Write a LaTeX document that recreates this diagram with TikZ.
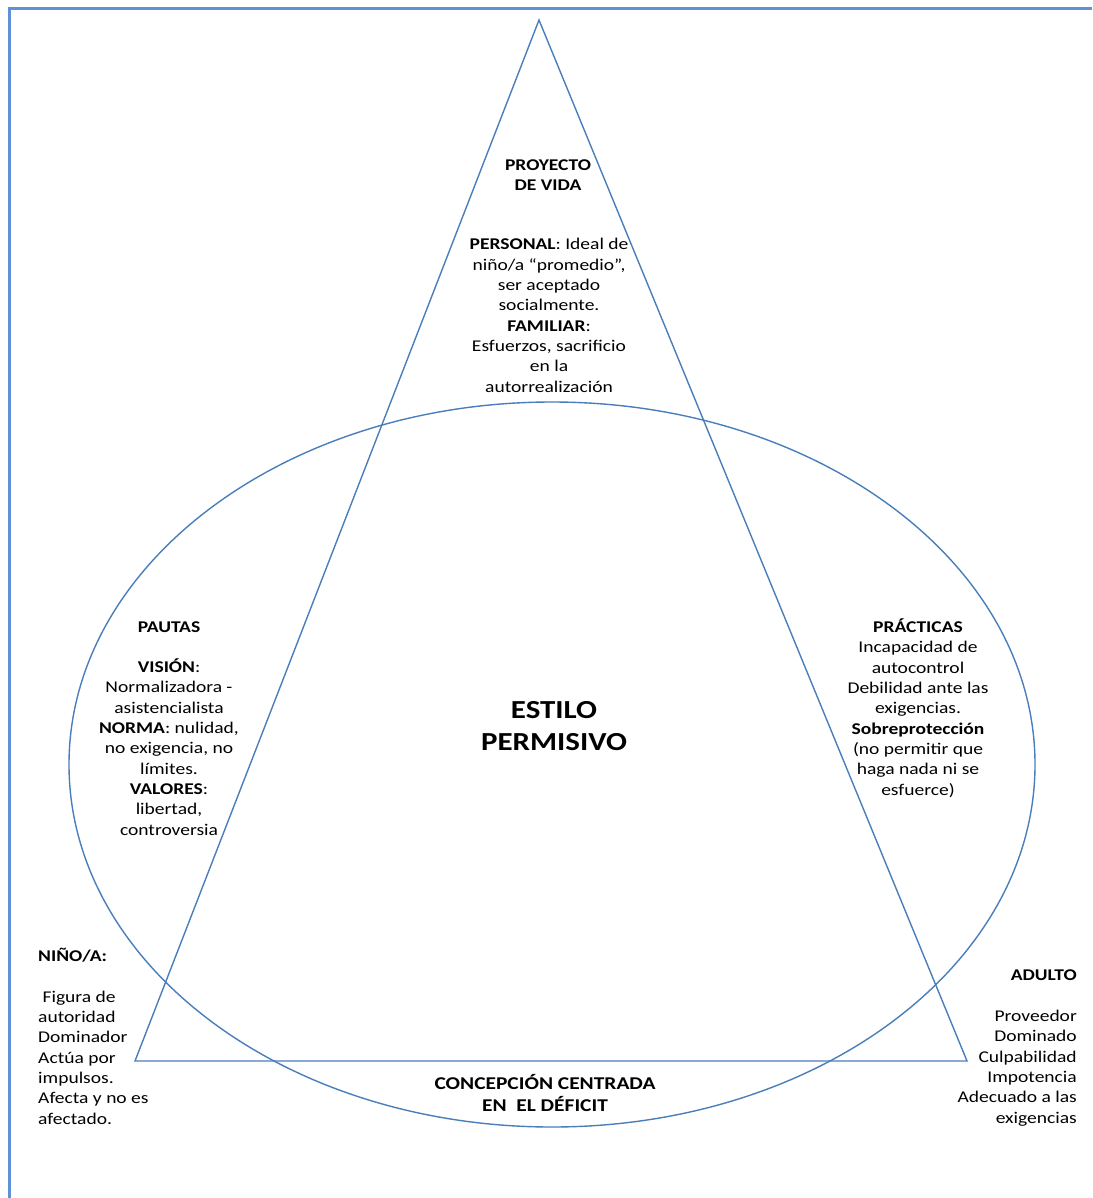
\documentclass[tikz,border=0pt]{standalone}
\usepackage{fontspec}
\setmainfont{Carlito}[FakeStretch=1.19]
\usepackage{tikz}
\usetikzlibrary{calc}

\definecolor{shapeblue}{HTML}{4A7EBB}
\definecolor{frameblue}{HTML}{5F91D8}

\begin{document}
\begin{tikzpicture}[x=1pt,y=1pt,
      txt/.style={inner sep=0pt,align=center,font=\fontsize{16.4}{20.3}\selectfont},
      ltxt/.style={txt,align=left},
      rtxt/.style={txt,align=right},
      big/.style={inner sep=0pt,align=center,font=\fontsize{26}{32}\selectfont\bfseries},
      outline/.style={draw=shapeblue,line width=1.4pt},
      frame/.style={draw=frameblue,line width=3pt}]
      \useasboundingbox (0,0) rectangle (1092,-1198);
      \draw[frame] (9,-1198) -- (9,-9) -- (1092,-9);
      \coordinate (apex) at (539,-20);
      \coordinate (lft) at (135,-1061);
      \coordinate (rgt) at (967,-1061);
      \coordinate (c) at (552,-764.5);
      \draw[outline] (c) ellipse [x radius=483, y radius=362.5];
      \draw[outline,line join=miter] (apex) -- (lft) -- (rgt) -- cycle;
      % texts (base = last line)
      \node[txt,anchor=base] (proyecto) at (548,-191) {\textbf{PROYECTO}\\\textbf{DE VIDA}};
      \node[txt,anchor=base] (personal) at (549,-392) {\textbf{PERSONAL}: Ideal de\\niño/a “promedio”,\\ser aceptado\\socialmente.\\\textbf{FAMILIAR}:\\Esfuerzos, sacrificio\\en la\\autorrealización};
      \node[txt,anchor=base] (pautas) at (169,-835) {\textbf{PAUTAS}\\[20.3pt]\textbf{VISIÓN}:\\Normalizadora -\\asistencialista\\\textbf{NORMA}: nulidad,\\no exigencia, no\\límites.\\\textbf{VALORES}:\\libertad,\\controversia};
      \node[txt,anchor=base] (practicas) at (918,-795) {\textbf{PRÁCTICAS}\\Incapacidad de\\autocontrol\\Debilidad ante las\\exigencias.\\\textbf{Sobreprotección}\\(no permitir que\\haga nada ni se\\esfuerce)};
      \node[big,anchor=base] (estilo) at (554,-750) {ESTILO\\PERMISIVO};
      \node[ltxt,anchor=base west] (nino) at (38,-1124) {\textbf{NIÑO/A:}\\[20.3pt]\ Figura de\\autoridad\\Dominador\\Actúa por\\impulsos.\\Afecta y no es\\afectado.};
      \node[rtxt,anchor=base east] (adulto) at (1077,-1123) {\textbf{ADULTO}\\[20.3pt]Proveedor\\Dominado\\Culpabilidad\\Impotencia\\Adecuado a las\\exigencias};
      \node[txt,anchor=base,font=\fontsize{18}{22}\selectfont\bfseries] (concepcion) at (545,-1111) {CONCEPCIÓN CENTRADA\\EN\ \ EL DÉFICIT};
\end{tikzpicture}
\end{document}
